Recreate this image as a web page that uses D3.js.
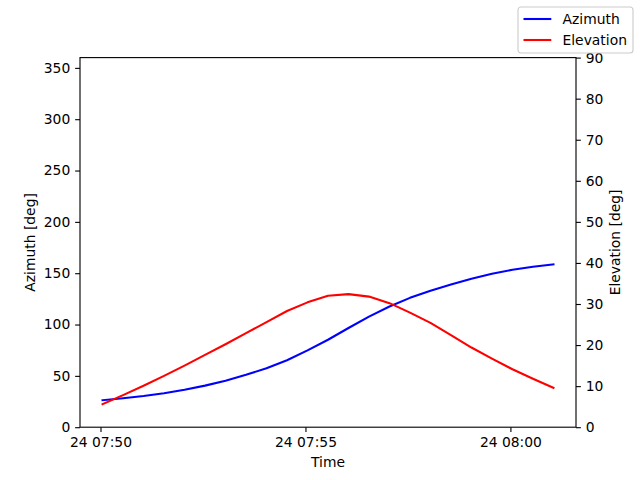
<!DOCTYPE html>
<html>
<head>
<meta charset="utf-8">
<script src="https://cdn.jsdelivr.net/npm/d3@7"></script>
<style>
  body { margin: 0; background: #fff; }
  text { font-family: "DejaVu Sans", sans-serif; }
</style>
</head>
<body>
<div id="chart"></div>
<script>
// samples every 30 s starting 24th, 07:50:03 UTC
const startTime = "2024-01-24T07:50:03Z";
const stepSeconds = 30;
const azimuth = [26.3, 28.2, 30.4, 33.1, 36.5, 40.5, 45.3, 51.0, 57.5, 65.2, 74.8, 85.2,
  96.6, 107.7, 117.6, 126.0, 133.0, 139.0, 144.6, 149.5, 153.4, 156.3, 158.6];
const elevation = [5.6, 7.8, 10.1, 12.5, 15.0, 17.6, 20.2, 22.9, 25.6, 28.3, 30.4, 32.0,
  32.4, 31.8, 30.2, 27.9, 25.4, 22.4, 19.4, 16.7, 14.1, 11.8, 9.6];
const xTickTimes = ["2024-01-24T07:50:00Z", "2024-01-24T07:55:00Z", "2024-01-24T08:00:00Z"];
const azTicks = [0, 50, 100, 150, 200, 250, 300, 350];
const elTicks = [0, 10, 20, 30, 40, 50, 60, 70, 80, 90];
const seriesNames = ["Azimuth", "Elevation"];

const width = 640, height = 480;
const margin = {left: 80, right: 64, top: 57.6, bottom: 52.8};
const fs = 13.89, tick = 4.86, pad = 4.86;

const t0 = new Date(startTime).getTime();
const times = azimuth.map((_, i) => new Date(t0 + i * stepSeconds * 1000));

const svg = d3.select("#chart").append("svg")
  .attr("width", width).attr("height", height);

const [tmin, tmax] = d3.extent(times);
const span = tmax - tmin;
const x = d3.scaleUtc()
  .domain([new Date(+tmin - span * 0.05), new Date(+tmax + span * 0.05)])
  .range([margin.left, width - margin.right]);
const yL = d3.scaleLinear().domain([0, 360]).range([height - margin.bottom, margin.top]);
const yR = d3.scaleLinear().domain([0, 90]).range([height - margin.bottom, margin.top]);

const line = (vals, ys) => d3.line()
  .x((d, i) => x(times[i]))
  .y(d => ys(d))(vals);

svg.append("path").attr("d", line(azimuth, yL))
  .attr("fill", "none").attr("stroke", "blue").attr("stroke-width", 2.08)
  .attr("stroke-linejoin", "round").attr("stroke-linecap", "square");
svg.append("path").attr("d", line(elevation, yR))
  .attr("fill", "none").attr("stroke", "red").attr("stroke-width", 2.08)
  .attr("stroke-linejoin", "round").attr("stroke-linecap", "square");

// frame
svg.append("rect")
  .attr("x", margin.left).attr("y", margin.top)
  .attr("width", width - margin.left - margin.right)
  .attr("height", height - margin.top - margin.bottom)
  .attr("fill", "none").attr("stroke", "#000").attr("stroke-width", 1.11);

const fmt = d3.utcFormat("%d %H:%M");
const styleAxis = g => {
  g.select(".domain").remove();
  g.selectAll("line").attr("stroke", "#000").attr("stroke-width", 1.11);
  g.selectAll("text").attr("fill", "#000")
    .style("font-family", "'DejaVu Sans', sans-serif").style("font-size", fs + "px");
};

svg.append("g")
  .attr("transform", `translate(0,${height - margin.bottom})`)
  .call(d3.axisBottom(x).tickValues(xTickTimes.map(s => new Date(s)))
    .tickFormat(fmt).tickSize(tick).tickPadding(pad).tickSizeOuter(0))
  .call(styleAxis);

svg.append("g")
  .attr("transform", `translate(${margin.left},0)`)
  .call(d3.axisLeft(yL).tickValues(azTicks).tickSize(tick).tickPadding(pad).tickSizeOuter(0))
  .call(styleAxis);

svg.append("g")
  .attr("transform", `translate(${width - margin.right},0)`)
  .call(d3.axisRight(yR).tickValues(elTicks).tickSize(tick).tickPadding(pad).tickSizeOuter(0))
  .call(styleAxis);

// axis labels
svg.append("text").attr("x", (margin.left + width - margin.right) / 2).attr("y", 467)
  .attr("text-anchor", "middle").style("font-size", fs + "px").text("Time");
svg.append("text").attr("transform", `translate(35,${(margin.top + height - margin.bottom) / 2}) rotate(-90)`)
  .attr("text-anchor", "middle").style("font-size", fs + "px").text("Azimuth [deg]");
svg.append("text").attr("transform", `translate(620,${(margin.top + height - margin.bottom) / 2}) rotate(-90)`)
  .attr("text-anchor", "middle").style("font-size", fs + "px").text("Elevation [deg]");

// legend, upper right of figure
const lg = svg.append("g").attr("transform", "translate(518,7)");
lg.append("rect").attr("width", 115).attr("height", 46).attr("rx", 3)
  .attr("fill", "#fff").attr("fill-opacity", 0.8)
  .attr("stroke", "#ccc").attr("stroke-width", 1.11);
const legendColor = d3.scaleOrdinal().domain(seriesNames).range(["blue", "red"]);
seriesNames.forEach((name, i) => {
  const yy = 12 + i * 21;
  lg.append("line").attr("x1", 5.5).attr("x2", 33.3).attr("y1", yy).attr("y2", yy)
    .attr("stroke", legendColor(name)).attr("stroke-width", 2.08);
  lg.append("text").attr("x", 44.5).attr("y", yy).attr("dy", "0.35em")
    .style("font-size", fs + "px").text(name);
});
</script>
</body>
</html>
